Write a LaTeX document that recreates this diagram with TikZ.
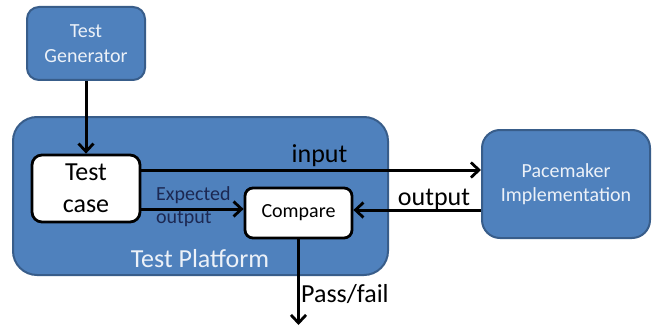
\documentclass[tikz,border=0pt]{standalone}
\usepackage{fontspec}
\setmainfont{Carlito}
\usetikzlibrary{arrows.meta}
\definecolor{boxblue}{RGB}{79,129,189}
\definecolor{boxedge}{RGB}{56,93,138}
\definecolor{boxtext}{RGB}{236,241,248}
\definecolor{navy}{RGB}{28,40,82}
\tikzset{
  bluebox/.style={draw=boxedge, fill=boxblue, line width=2pt, text=boxtext, align=center, inner sep=0pt},
  whitebox/.style={draw=black, fill=white, line width=2.8pt, text=black, align=center, inner sep=0pt},
  flow/.style={line width=3pt, -{Straight Barb[length=8pt,width=15pt,line width=2.8pt]}},
  bigtext/.style={font=\fontsize{26}{32}\selectfont},
  smalltext/.style={font=\fontsize{20}{24}\selectfont},
}
\begin{document}
\begin{tikzpicture}[x=1pt,y=-1pt]
\useasboundingbox (0,0) rectangle (652,326);
% Test platform
\node[bluebox, minimum width=375pt, minimum height=158pt, rounded corners=24pt] (tp) at (200.5,196) {};
\node[text=boxtext, bigtext, anchor=base, inner sep=0pt] (tpl) at (200,267) {Test Platform};
% Test generator
\node[bluebox, smalltext, minimum width=118pt, minimum height=73pt, rounded corners=12pt, font=\fontsize{20}{25}\selectfont] (tg) at (86,43.5) {Test\\Generator};
% Pacemaker
\node[bluebox, smalltext, minimum width=168pt, minimum height=108pt, rounded corners=18pt] (pm) at (566,184) {Pacemaker\\Implementation};
% Test case
\node[whitebox, bigtext, minimum width=108pt, minimum height=67pt, rounded corners=10pt] (tc) at (86,188.5) {Test\\case};
% Compare
\node[whitebox, smalltext, minimum width=107pt, minimum height=50pt, rounded corners=8pt] (cmp) at (298.5,213) {Compare};
% helper coordinates
\coordinate (inY) at (0,170);
\coordinate (outY) at (0,210);
\coordinate (expY) at (0,209);
\coordinate (pfEnd) at (298.5,325);
% connectors
\draw[flow] (tg.south) -- (tc.north);
\draw[flow] (tc.east |- inY) -- (pm.west |- inY);
\draw[flow] (pm.west |- outY) -- (cmp.east |- outY);
\draw[flow] (tc.east |- expY) -- (cmp.west |- expY);
\draw[flow] (cmp.south) -- (pfEnd);
% labels
\node[bigtext, anchor=base, inner sep=0pt] (linput) at (319.5,162) {input};
\node[bigtext, anchor=base, inner sep=0pt] (loutput) at (434,205) {output};
\node[text=navy, font=\fontsize{20}{23}\selectfont, align=left, anchor=base west, inner sep=0pt] (lexp) at (156,223) {Expected\\output};
\node[bigtext, anchor=base west, inner sep=0pt] (lpf) at (301,302) {Pass/fail};
\end{tikzpicture}
\end{document}
